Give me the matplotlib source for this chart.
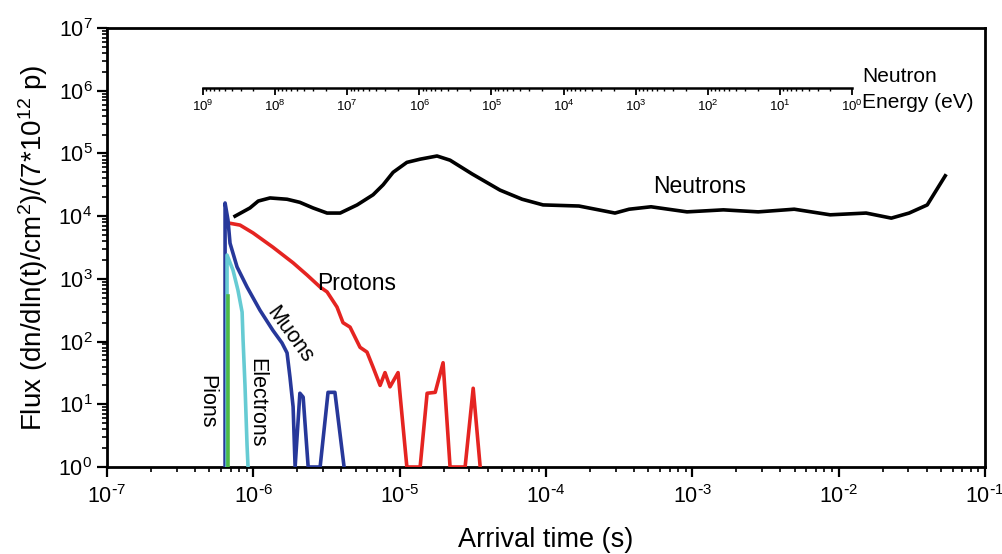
import numpy as np
import matplotlib
matplotlib.use("Agg")
import matplotlib.pyplot as plt
from matplotlib.ticker import LogLocator, NullFormatter, FixedLocator, FuncFormatter

plt.rcParams['font.family'] = ['Liberation Sans', 'DejaVu Sans']
plt.rcParams['mathtext.default'] = 'regular'
plt.rcParams['axes.unicode_minus'] = False

# ---------------- data ----------------
neutron_t = [7.50e-7, 9.48e-7, 1.08e-6, 1.30e-6, 1.70e-6, 2.08e-6, 2.56e-6, 3.19e-6,
             3.92e-6, 5.12e-6, 6.58e-6, 7.71e-6, 9.02e-6, 1.12e-5, 1.38e-5, 1.80e-5,
             2.21e-5, 3.13e-5, 4.85e-5, 6.87e-5, 9.55e-5, 1.68e-4, 2.96e-4, 3.70e-4,
             5.22e-4, 9.20e-4, 1.63e-3, 2.82e-3, 4.97e-3, 8.75e-3, 1.54e-2, 2.29e-2,
             3.03e-2, 4.03e-2, 5.35e-2]
neutron_f = [1.00e4, 1.35e4, 1.74e4, 1.95e4, 1.86e4, 1.66e4, 1.35e4, 1.12e4,
             1.12e4, 1.51e4, 2.19e4, 3.16e4, 5.00e4, 7.20e4, 8.10e4, 9.10e4,
             7.80e4, 4.70e4, 2.60e4, 1.86e4, 1.51e4, 1.45e4, 1.12e4, 1.29e4,
             1.41e4, 1.17e4, 1.26e4, 1.17e4, 1.29e4, 1.05e4, 1.12e4, 9.30e3,
             1.12e4, 1.51e4, 4.40e4]

proton_t = [6.71e-7, 8.11e-7, 9.95e-7, 1.36e-6, 1.87e-6, 2.33e-6, 2.86e-6, 3.19e-6,
            3.73e-6, 4.10e-6, 4.58e-6, 5.36e-6, 5.98e-6, 6.58e-6, 7.35e-6, 7.94e-6,
            8.59e-6, 9.75e-6, 1.01e-5, 1.12e-5, 1.38e-5, 1.54e-5, 1.75e-5, 1.98e-5,
            2.21e-5, 2.80e-5, 3.18e-5, 3.55e-5]
proton_f = [7.8e3, 7.2e3, 5.4e3, 3.2e3, 1.8e3, 1.15e3, 740, 620,
            355, 200, 170, 81, 68, 39, 20, 32,
            19, 32, 13, 1.0, 1.0, 15, 15.5, 46,
            1.0, 1.0, 18, 1.0]

muon_t = [6.41e-7, 6.41e-7, 6.71e-7, 6.93e-7, 7.74e-7, 9.06e-7, 1.11e-6, 1.36e-6,
          1.57e-6, 1.70e-6, 1.78e-6, 1.87e-6, 1.93e-6, 2.08e-6, 2.19e-6, 2.37e-6,
          2.86e-6, 3.24e-6, 3.61e-6, 4.17e-6]
muon_f = [1.0, 1.62e4, 8.7e3, 3.7e3, 1.55e3, 740, 316, 151,
          95, 66, 27, 9.1, 1.0, 15, 13, 1.0,
          1.0, 15.5, 15.5, 1.0]

electron_t = [6.61e-7, 6.61e-7, 7.26e-7, 7.85e-7, 8.38e-7, 8.51e-7, 8.77e-7, 9.06e-7, 9.20e-7]
electron_f = [1.0, 2.4e3, 1.38e3, 660, 295, 105, 20, 2.2, 1.0]

pion_t = [6.71e-7, 6.71e-7]
pion_f = [1.0, 525]

energy_range = [1e9, 1e0]   # neutron energy scale (eV), left to right


def minor_log_ticks(lo_exp, hi_exp):
    return [m * 10.0 ** e for e in range(lo_exp, hi_exp) for m in range(2, 10)]


def pow10_label(x, pos):
    e = int(round(np.log10(x)))
    if e < 0:
        return r'$10^{\text{-}%d}$' % (-e)
    return r'$10^{%d}$' % e


# ---------------- figure ----------------
W, H = 1002, 554
fig = plt.figure(figsize=(W / 100, H / 100), dpi=100)
L, R, T, B = 107, 985, 28, 467
ax = fig.add_axes([L / W, 1 - B / H, (R - L) / W, (B - T) / H])

lw = 2.6
ax.plot(neutron_t, neutron_f, color='black', lw=lw, zorder=3)
ax.plot(proton_t, proton_f, color='#e52421', lw=lw, zorder=3)
ax.plot(muon_t, muon_f, color='#27389a', lw=lw, zorder=4)
ax.plot(electron_t, electron_f, color='#66cbd3', lw=lw, zorder=5)
ax.plot(pion_t, pion_f, color='#4cb848', lw=lw, zorder=6)

ax.set_xscale('log')
ax.set_yscale('log')
ax.set_xlim(1e-7, 1e-1)
ax.set_ylim(1e0, 1e7)

ax.xaxis.set_major_locator(LogLocator(base=10, numticks=20))
ax.xaxis.set_minor_locator(FixedLocator(minor_log_ticks(-7, -1)))
ax.yaxis.set_major_locator(LogLocator(base=10, numticks=20))
ax.yaxis.set_minor_locator(FixedLocator(minor_log_ticks(0, 7)))
ax.xaxis.set_major_formatter(FuncFormatter(pow10_label))
ax.yaxis.set_major_formatter(FuncFormatter(pow10_label))
ax.xaxis.set_minor_formatter(NullFormatter())
ax.yaxis.set_minor_formatter(NullFormatter())

for s in ax.spines.values():
    s.set_linewidth(2.0)
ax.tick_params(which='major', direction='out', length=7, width=1.6, labelsize=15.5,
               top=False, right=False)
ax.tick_params(which='minor', direction='out', length=3.5, width=1.2,
               top=False, right=False)
ax.tick_params(axis='x', pad=6)

ax.set_xlabel('Arrival time (s)', fontsize=19.5, labelpad=14)
ax.set_ylabel('Flux (dn/dln(t)/cm$^{2}$)/(7*10$^{12}$ p)', fontsize=20, labelpad=6)

# curve labels
ax.text(1.13e-3, 3.0e4, 'Neutrons', fontsize=16.5, ha='center', va='center')
ax.text(5.1e-6, 8.3e2, 'Protons', fontsize=16.5, ha='center', va='center')
ax.text(1.78e-6, 1.26e2, 'Muons', fontsize=15.5, ha='center', va='center', rotation=-54)
ax.text(1.06e-6, 10.5, 'Electrons', fontsize=15.5, ha='center', va='center', rotation=-90)
ax.text(4.83e-7, 10.8, 'Pions', fontsize=15.5, ha='center', va='center', rotation=-90)

# neutron energy scale
EL, ER, EY = 203, 852, 88
eax = fig.add_axes([EL / W, 1 - EY / H, (ER - EL) / W, 1e-4])
eax.set_xscale('log')
eax.set_xlim(*energy_range)
eax.patch.set_visible(False)
for k in ['top', 'left', 'right']:
    eax.spines[k].set_visible(False)
eax.spines['bottom'].set_linewidth(1.8)
eax.set_yticks([])
eax.xaxis.set_major_locator(LogLocator(base=10, numticks=20))
eax.xaxis.set_minor_locator(FixedLocator(minor_log_ticks(0, 9)))
eax.xaxis.set_major_formatter(FuncFormatter(pow10_label))
eax.xaxis.set_minor_formatter(NullFormatter())
eax.tick_params(which='major', direction='out', length=5, width=1.3, labelsize=9.5, pad=3)
eax.tick_params(which='minor', direction='out', length=2.5, width=1.0)
fig.text(862 / W, 1 - 77 / H, 'Neutron', fontsize=15, ha='left', va='center')
fig.text(862 / W, 1 - 103 / H, 'Energy (eV)', fontsize=15, ha='left', va='center')

fig.savefig('out.png', dpi=100)
